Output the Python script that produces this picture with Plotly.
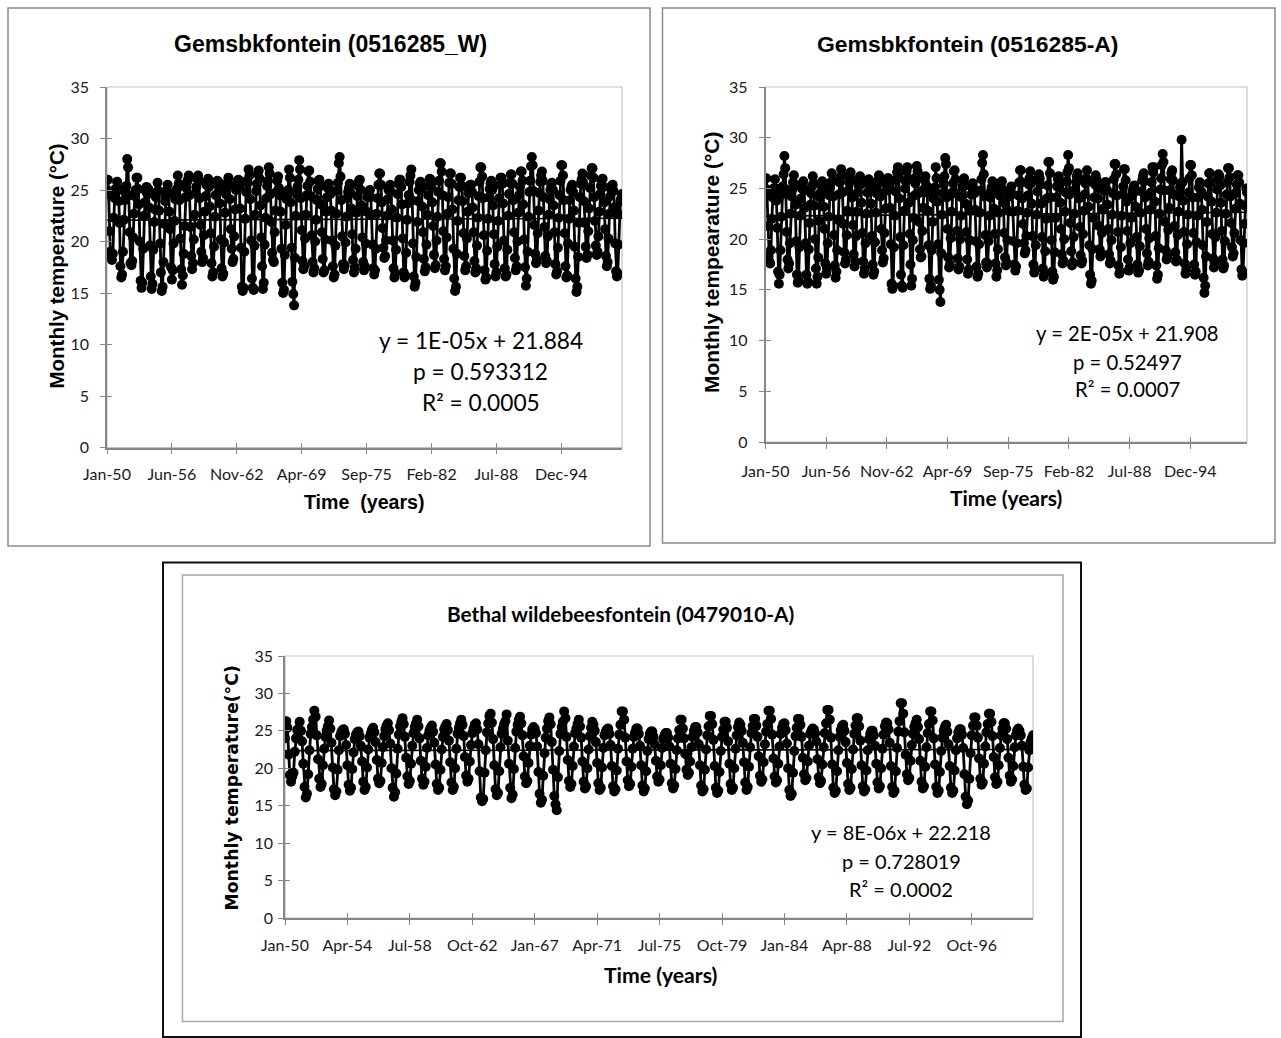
import pandas as pd
import plotly.graph_objects as go

# ---------------------------------------------------------------------------
# Monthly mean temperature (deg C), January 1950 - December 2000, one row per year
# ---------------------------------------------------------------------------
W_TEMPS = [
    25.0, 26.0, 24.6, 21.0, 19.0, 18.6, 18.2, 18.8, 22.3, 24.2, 25.1, 24.8,  # 1950
    25.8, 25.2, 23.9, 21.8, 17.6, 16.5, 16.8, 19.0, 22.1, 24.0, 24.7, 25.4,  # 1951
    28.0, 27.2, 24.5, 20.9, 17.9, 17.7, 18.1, 20.4, 22.7, 24.4, 25.0, 26.2,  # 1952
    26.2, 25.1, 23.6, 20.0, 16.2, 15.5, 16.0, 19.3, 22.5, 23.8, 24.9, 25.3,  # 1953
    24.6, 25.1, 23.3, 19.6, 16.6, 15.4, 15.9, 19.2, 21.9, 23.1, 24.3, 24.8,  # 1954
    25.7, 24.9, 23.0, 19.8, 17.0, 15.2, 15.6, 18.0, 21.7, 23.9, 24.4, 25.0,  # 1955
    25.5, 24.7, 22.9, 21.2, 17.5, 16.3, 17.2, 19.8, 22.0, 24.1, 24.6, 25.1,  # 1956
    26.4, 25.6, 24.0, 20.3, 17.3, 15.8, 16.7, 18.8, 21.5, 24.3, 25.2, 25.8,  # 1957
    26.0, 26.4, 24.5, 21.4, 18.6, 17.3, 17.9, 20.2, 22.6, 24.7, 25.3, 26.1,  # 1958
    26.4, 25.9, 24.2, 21.6, 19.0, 18.0, 18.4, 20.6, 22.9, 24.4, 25.5, 25.8,  # 1959
    26.1, 25.3, 23.4, 20.8, 17.9, 16.6, 17.0, 19.5, 22.4, 24.5, 25.6, 25.9,  # 1960
    25.8, 25.0, 23.7, 20.2, 17.4, 16.6, 16.9, 19.9, 22.8, 24.6, 25.4, 25.7,  # 1961
    26.2, 25.5, 24.1, 21.2, 19.3, 18.0, 18.3, 20.5, 23.1, 25.0, 25.3, 25.9,  # 1962
    26.0, 25.4, 23.2, 19.4, 15.6, 15.2, 15.5, 19.0, 22.2, 24.8, 25.9, 25.7,  # 1963
    27.0, 26.4, 24.1, 20.1, 16.4, 15.5, 15.3, 19.6, 22.6, 24.9, 25.6, 26.6,  # 1964
    26.9, 26.1, 23.5, 20.4, 17.6, 15.4, 16.0, 19.7, 22.3, 24.2, 25.4, 25.9,  # 1965
    27.2, 26.6, 24.6, 21.9, 18.9, 18.2, 18.0, 20.9, 23.0, 24.8, 25.9, 26.3,  # 1966
    25.2, 24.5, 22.9, 19.3, 16.0, 15.0, 15.3, 18.7, 21.6, 24.1, 24.7, 25.0,  # 1967
    27.0, 26.2, 23.8, 19.4, 16.1, 14.9, 13.8, 18.4, 22.5, 24.6, 25.3, 26.0,  # 1968
    27.9, 27.0, 24.2, 21.1, 18.1, 17.3, 17.6, 20.3, 22.6, 24.5, 25.4, 26.8,  # 1969
    26.9, 25.8, 24.4, 20.6, 18.0, 17.0, 17.4, 20.0, 22.1, 24.0, 25.1, 25.9,  # 1970
    26.0, 25.4, 23.6, 20.9, 18.3, 17.0, 17.2, 20.2, 22.9, 24.3, 25.2, 25.6,  # 1971
    25.1, 24.6, 23.0, 20.1, 17.6, 16.5, 16.8, 19.6, 22.7, 24.9, 25.7, 27.6,  # 1972
    28.2, 26.3, 24.0, 20.5, 17.8, 17.3, 17.7, 19.9, 22.4, 24.2, 24.8, 25.2,  # 1973
    25.6, 24.7, 23.2, 20.7, 18.2, 17.0, 17.5, 19.3, 22.8, 24.4, 25.4, 25.9,  # 1974
    26.0, 25.0, 23.5, 20.4, 18.0, 17.2, 17.6, 19.8, 22.9, 24.3, 24.6, 24.9,  # 1975
    25.0, 24.3, 22.6, 19.7, 17.4, 16.8, 17.2, 19.3, 22.7, 24.2, 25.5, 26.6,  # 1976
    26.6, 25.5, 23.8, 21.3, 19.4, 18.4, 18.6, 20.1, 22.5, 24.1, 25.0, 25.3,  # 1977
    25.5, 24.8, 23.1, 20.1, 17.4, 16.5, 16.9, 19.2, 22.3, 24.6, 25.6, 26.0,  # 1978
    26.0, 25.3, 23.6, 20.3, 17.0, 16.5, 16.7, 18.9, 22.1, 23.7, 24.5, 25.8,  # 1979
    26.4, 27.0, 24.0, 19.8, 16.6, 15.6, 16.0, 18.5, 21.9, 23.9, 25.0, 25.6,  # 1980
    25.8, 25.1, 23.4, 20.9, 18.3, 17.1, 17.5, 19.7, 22.6, 24.5, 25.4, 26.1,  # 1981
    26.0, 25.3, 23.8, 21.5, 18.7, 17.4, 17.7, 20.1, 22.4, 24.8, 25.9, 27.6,  # 1982
    27.6, 26.8, 24.5, 21.0, 18.3, 17.2, 17.6, 20.4, 22.7, 24.3, 25.7, 26.6,  # 1983
    26.6, 25.6, 23.1, 19.3, 16.4, 15.2, 15.6, 18.8, 22.0, 24.0, 25.3, 26.2,  # 1984
    26.2, 25.4, 23.9, 20.8, 18.6, 17.2, 17.6, 20.3, 22.9, 24.7, 25.0, 25.5,  # 1985
    25.5, 24.8, 23.3, 20.9, 18.1, 17.0, 17.4, 19.6, 22.3, 24.4, 25.8, 27.2,  # 1986
    27.2, 26.3, 24.2, 20.6, 17.2, 16.3, 16.5, 19.1, 22.2, 24.3, 25.1, 25.6,  # 1987
    25.9, 25.0, 23.5, 20.7, 17.8, 16.6, 17.0, 19.5, 22.0, 24.2, 25.5, 26.2,  # 1988
    26.2, 25.6, 23.7, 20.1, 17.4, 16.6, 16.8, 19.2, 22.5, 24.6, 25.7, 26.5,  # 1989
    26.5, 25.6, 24.0, 20.9, 18.4, 17.2, 17.6, 20.0, 22.8, 24.5, 25.3, 26.8,  # 1990
    26.8, 25.9, 23.6, 20.2, 17.5, 15.7, 16.4, 19.0, 22.4, 24.8, 25.9, 27.3,  # 1991
    28.2, 27.4, 24.9, 21.6, 18.8, 17.9, 18.2, 20.8, 23.0, 24.7, 25.8, 26.4,  # 1992
    26.8, 25.9, 24.3, 21.4, 18.6, 17.9, 18.1, 20.5, 22.6, 24.1, 25.0, 25.5,  # 1993
    25.7, 25.0, 23.5, 20.9, 17.8, 16.8, 17.1, 19.4, 22.3, 24.5, 25.9, 27.4,  # 1994
    27.4, 26.4, 24.0, 20.8, 17.6, 16.5, 16.7, 19.8, 22.2, 24.0, 25.0, 25.3,  # 1995
    25.5, 24.8, 23.0, 19.5, 16.4, 15.1, 15.6, 18.5, 21.8, 24.3, 25.6, 26.0,  # 1996
    26.6, 25.7, 23.9, 21.8, 19.5, 18.4, 18.7, 21.0, 23.2, 25.2, 26.4, 27.1,  # 1997
    27.1, 26.2, 24.3, 22.0, 19.6, 18.7, 19.0, 20.5, 22.9, 24.6, 25.4, 26.0,  # 1998
    26.1, 25.3, 23.8, 21.2, 18.6, 17.6, 18.0, 20.3, 22.7, 24.4, 25.1, 25.4,  # 1999
    25.5, 24.9, 23.3, 19.8, 17.1, 16.6, 16.9, 19.7, 22.6, 23.9, 24.2, 24.6,  # 2000
]

A_TEMPS = [
    25.0, 26.0, 24.3, 21.3, 18.3, 17.8, 17.6, 18.9, 22.0, 24.1, 25.0, 24.6,  # 1950
    25.9, 25.0, 23.8, 21.1, 16.8, 15.6, 16.5, 18.9, 22.2, 24.4, 25.2, 26.4,  # 1951
    28.2, 27.0, 24.9, 20.7, 18.0, 17.1, 17.6, 19.6, 22.5, 24.2, 24.9, 25.6,  # 1952
    26.3, 25.3, 23.4, 19.8, 16.5, 15.7, 15.9, 19.2, 22.3, 24.0, 25.0, 25.5,  # 1953
    25.7, 24.8, 23.1, 19.6, 16.5, 15.6, 15.8, 19.0, 21.6, 23.4, 24.5, 25.2,  # 1954
    26.2, 25.5, 23.3, 20.0, 17.1, 15.6, 16.3, 18.2, 21.8, 24.1, 24.6, 25.3,  # 1955
    25.7, 24.9, 23.2, 21.0, 17.6, 16.6, 17.1, 19.6, 22.2, 24.3, 25.1, 25.6,  # 1956
    26.5, 25.7, 24.2, 20.4, 17.4, 16.2, 16.8, 18.9, 21.9, 24.4, 25.6, 26.1,  # 1957
    26.9, 26.3, 24.6, 21.5, 18.7, 17.6, 18.0, 20.4, 22.8, 24.8, 25.6, 26.2,  # 1958
    26.6, 25.8, 24.1, 21.4, 18.5, 17.3, 17.8, 20.3, 22.7, 24.6, 25.3, 25.7,  # 1959
    26.2, 25.4, 23.6, 20.6, 17.8, 16.6, 17.1, 19.6, 22.5, 24.6, 25.5, 25.9,  # 1960
    25.7, 24.9, 23.5, 20.3, 17.5, 16.5, 16.8, 19.7, 22.6, 24.5, 25.4, 25.8,  # 1961
    26.3, 25.6, 24.2, 21.0, 18.9, 17.7, 18.1, 20.6, 23.0, 24.8, 25.4, 26.0,  # 1962
    26.0, 25.3, 23.1, 19.5, 15.6, 15.1, 15.4, 19.2, 22.3, 24.7, 25.8, 26.6,  # 1963
    27.1, 26.2, 24.0, 20.2, 16.5, 15.4, 15.2, 19.4, 22.8, 25.0, 25.7, 26.7,  # 1964
    27.1, 26.0, 23.6, 20.5, 17.5, 15.4, 16.1, 19.9, 22.1, 24.3, 25.5, 26.1,  # 1965
    27.2, 26.7, 24.5, 21.7, 19.0, 18.2, 18.3, 20.8, 23.1, 24.9, 25.8, 26.2,  # 1966
    25.3, 24.6, 22.8, 19.4, 16.1, 15.1, 15.4, 18.9, 21.7, 24.0, 24.8, 25.1,  # 1967
    27.1, 26.0, 23.7, 19.5, 16.0, 15.0, 13.8, 18.6, 22.4, 24.5, 25.4, 26.2,  # 1968
    28.0, 27.4, 24.1, 21.0, 18.2, 17.2, 17.5, 20.1, 22.7, 24.6, 25.5, 26.7,  # 1969
    26.8, 25.9, 24.5, 20.8, 18.1, 17.0, 17.3, 20.0, 22.3, 24.1, 25.2, 25.8,  # 1970
    26.0, 25.3, 23.5, 20.7, 18.0, 16.6, 17.0, 19.9, 22.8, 24.4, 25.1, 25.5,  # 1971
    25.0, 24.5, 22.9, 19.8, 17.3, 16.3, 16.6, 19.5, 22.6, 24.8, 25.9, 27.5,  # 1972
    28.3, 26.4, 24.2, 20.4, 17.7, 17.2, 17.6, 19.8, 22.3, 24.1, 24.7, 25.1,  # 1973
    25.7, 24.8, 23.0, 20.5, 17.6, 16.3, 16.9, 19.0, 22.6, 24.3, 25.2, 25.6,  # 1974
    25.7, 24.9, 23.6, 20.6, 18.2, 17.4, 17.7, 19.9, 22.8, 24.2, 24.5, 24.8,  # 1975
    25.2, 24.4, 22.7, 19.8, 17.5, 16.9, 17.3, 19.6, 22.8, 24.3, 25.6, 26.8,  # 1976
    26.8, 25.6, 24.0, 21.5, 19.6, 18.6, 18.9, 20.3, 22.6, 24.3, 25.4, 26.0,  # 1977
    26.7, 25.5, 23.5, 20.3, 17.5, 16.7, 17.0, 19.4, 22.4, 24.7, 25.9, 26.4,  # 1978
    26.0, 25.4, 23.5, 20.2, 17.1, 16.3, 16.6, 18.8, 22.0, 24.0, 25.3, 27.6,  # 1979
    27.6, 26.5, 24.1, 19.9, 16.8, 16.0, 16.3, 18.7, 22.1, 24.1, 25.2, 25.9,  # 1980
    26.2, 25.3, 23.6, 21.0, 18.5, 17.6, 17.9, 20.0, 22.7, 24.6, 25.7, 26.6,  # 1981
    28.3, 27.0, 24.4, 21.6, 18.8, 17.4, 17.7, 20.2, 22.5, 24.9, 25.6, 26.2,  # 1982
    26.5, 25.8, 24.0, 21.2, 18.4, 17.6, 17.9, 20.5, 22.8, 24.4, 25.5, 26.0,  # 1983
    26.8, 25.7, 23.2, 19.4, 16.5, 15.6, 15.9, 19.0, 22.1, 24.1, 25.4, 26.3,  # 1984
    25.9, 25.2, 24.0, 21.3, 19.0, 18.3, 18.6, 20.6, 23.0, 24.8, 25.1, 25.6,  # 1985
    25.6, 24.9, 23.4, 21.0, 18.5, 17.6, 17.9, 19.9, 22.4, 24.5, 25.9, 27.4,  # 1986
    27.4, 26.4, 24.3, 20.7, 17.4, 16.6, 16.8, 19.2, 22.3, 24.4, 25.2, 26.9,  # 1987
    26.9, 25.8, 23.7, 20.8, 18.0, 16.9, 17.2, 19.6, 22.1, 24.3, 24.8, 25.1,  # 1988
    25.3, 24.7, 23.2, 20.2, 17.5, 16.7, 16.9, 19.3, 22.6, 24.7, 25.8, 26.2,  # 1989
    26.5, 25.7, 24.1, 21.0, 18.6, 17.4, 17.8, 20.1, 22.9, 24.6, 25.6, 27.1,  # 1990
    26.6, 27.1, 23.7, 20.3, 17.4, 16.1, 16.5, 19.1, 22.5, 24.9, 26.0, 27.3,  # 1991
    28.4, 27.6, 24.8, 21.7, 18.9, 18.0, 18.3, 20.9, 23.1, 24.8, 25.9, 26.5,  # 1992
    26.8, 25.8, 24.4, 21.3, 18.7, 17.8, 18.0, 20.4, 22.7, 24.2, 25.1, 25.4,  # 1993
    29.8, 25.6, 23.8, 20.7, 17.6, 16.6, 17.0, 19.5, 22.4, 24.6, 26.0, 27.3,  # 1994
    27.3, 26.3, 24.1, 20.6, 17.5, 16.5, 16.8, 19.7, 22.3, 24.1, 25.1, 25.6,  # 1995
    25.5, 24.7, 22.9, 19.4, 16.2, 14.7, 15.4, 18.3, 21.7, 24.2, 25.5, 26.5,  # 1996
    26.5, 25.6, 23.7, 20.5, 18.1, 17.2, 17.6, 20.2, 22.6, 24.9, 25.9, 26.4,  # 1997
    26.2, 25.3, 23.6, 20.8, 18.0, 17.1, 17.4, 19.8, 22.5, 24.4, 25.6, 27.0,  # 1998
    27.0, 26.1, 24.2, 21.6, 19.2, 18.3, 18.6, 20.6, 23.0, 24.6, 25.4, 26.3,  # 1999
    26.3, 25.6, 23.5, 19.9, 17.0, 16.4, 16.7, 19.6, 21.5, 23.3, 25.0, 24.6,  # 2000
]

B_TEMPS = [
    24.0, 26.3, 25.4, 21.8, 19.1, 18.2, 18.9, 19.4, 22.2, 24.0, 25.1, 25.3,  # 1950
    26.2, 25.0, 23.6, 20.6, 17.5, 16.1, 16.6, 19.2, 22.4, 24.6, 25.5, 26.5,  # 1951
    27.7, 26.9, 24.4, 21.2, 18.6, 17.5, 17.9, 20.4, 22.6, 24.2, 25.0, 25.6,  # 1952
    26.4, 25.3, 23.4, 20.1, 17.2, 16.4, 16.9, 19.8, 22.4, 24.3, 24.8, 25.1,  # 1953
    25.2, 24.6, 23.1, 20.4, 17.8, 17.0, 17.4, 19.9, 22.1, 23.9, 24.5, 24.8,  # 1954
    24.9, 24.3, 23.0, 20.9, 18.2, 17.1, 17.5, 20.1, 22.5, 24.1, 24.6, 25.1,  # 1955
    25.4, 24.8, 23.5, 21.1, 18.6, 18.0, 18.3, 20.7, 22.8, 24.3, 25.2, 25.7,  # 1956
    26.0, 25.1, 23.3, 20.0, 17.4, 16.2, 16.8, 19.3, 22.6, 24.5, 25.6, 26.2,  # 1957
    26.7, 25.9, 24.2, 21.4, 18.9, 17.9, 18.3, 20.6, 23.0, 24.7, 25.5, 26.0,  # 1958
    26.5, 25.6, 24.0, 21.0, 18.6, 17.8, 18.2, 20.2, 22.7, 24.4, 25.0, 25.4,  # 1959
    25.7, 24.9, 23.4, 20.5, 17.9, 17.1, 17.4, 19.8, 22.5, 24.2, 25.2, 25.6,  # 1960
    25.9, 25.1, 23.7, 20.8, 18.1, 17.1, 17.5, 20.0, 22.6, 24.6, 25.4, 26.0,  # 1961
    26.5, 25.8, 24.3, 21.5, 19.0, 18.2, 18.6, 20.9, 23.1, 24.7, 25.3, 25.8,  # 1962
    26.0, 25.2, 23.2, 19.6, 16.1, 15.6, 15.9, 19.4, 22.4, 24.8, 26.0, 27.0,  # 1963
    27.3, 26.1, 23.9, 20.4, 17.2, 16.4, 16.7, 19.6, 22.8, 24.6, 25.3, 25.9,  # 1964
    26.3, 27.2, 23.7, 20.6, 17.4, 16.0, 16.5, 19.9, 22.7, 24.9, 25.8, 26.5,  # 1965
    26.9, 26.0, 24.4, 21.6, 18.9, 18.0, 18.3, 20.7, 23.0, 24.5, 25.2, 25.5,  # 1966
    25.3, 24.7, 22.9, 19.5, 16.6, 15.4, 15.8, 19.0, 22.0, 24.1, 25.3, 26.3,  # 1967
    26.8, 25.9, 23.5, 19.8, 16.3, 15.2, 14.4, 18.8, 22.3, 24.6, 25.5, 26.2,  # 1968
    27.6, 26.7, 24.2, 21.1, 18.3, 17.5, 17.9, 20.3, 22.9, 24.7, 25.3, 25.9,  # 1969
    26.5, 25.6, 24.1, 20.9, 18.2, 17.3, 17.6, 20.0, 22.5, 24.3, 25.4, 26.2,  # 1970
    25.8, 25.0, 23.5, 20.7, 18.0, 17.1, 17.4, 20.1, 22.7, 24.4, 24.9, 25.2,  # 1971
    25.3, 24.6, 23.1, 20.3, 17.6, 16.9, 17.2, 19.7, 22.6, 24.5, 25.8, 27.6,  # 1972
    27.6, 26.5, 24.1, 20.9, 18.4, 17.6, 17.9, 20.2, 22.6, 24.2, 24.8, 25.3,  # 1973
    25.3, 24.6, 23.0, 20.4, 17.7, 16.9, 17.3, 19.6, 22.3, 23.9, 24.6, 24.9,  # 1974
    24.9, 24.2, 23.2, 21.0, 18.9, 18.2, 18.5, 20.4, 22.7, 23.9, 24.4, 24.7,  # 1975
    24.7, 24.1, 22.9, 20.6, 18.0, 17.3, 17.7, 19.9, 22.4, 24.0, 25.1, 26.5,  # 1976
    26.5, 25.3, 24.0, 21.9, 19.8, 19.1, 19.4, 20.9, 22.8, 24.2, 25.0, 25.5,  # 1977
    25.5, 24.8, 23.2, 20.4, 17.7, 16.9, 17.2, 19.8, 22.5, 24.4, 25.6, 27.0,  # 1978
    27.0, 25.9, 23.8, 20.3, 17.4, 16.7, 17.0, 19.5, 22.3, 24.2, 25.2, 26.2,  # 1979
    26.2, 25.4, 23.6, 20.6, 17.9, 17.1, 17.4, 20.0, 22.6, 24.4, 25.5, 26.1,  # 1980
    25.8, 25.0, 23.4, 20.8, 18.1, 17.1, 17.5, 20.2, 22.8, 24.7, 25.6, 26.6,  # 1981
    26.6, 25.7, 24.2, 21.6, 19.0, 18.2, 18.5, 20.8, 23.2, 24.9, 25.9, 27.7,  # 1982
    27.7, 26.6, 24.5, 21.3, 18.9, 18.1, 18.4, 20.6, 22.9, 24.6, 25.4, 25.9,  # 1983
    26.0, 25.1, 23.3, 20.0, 17.1, 16.3, 16.6, 19.4, 22.3, 24.3, 25.4, 26.6,  # 1984
    26.6, 25.8, 24.2, 21.4, 19.2, 18.4, 18.7, 20.9, 23.0, 24.6, 25.0, 25.3,  # 1985
    25.2, 24.6, 23.6, 21.2, 18.8, 18.0, 18.3, 20.5, 22.8, 24.7, 26.0, 27.8,  # 1986
    27.8, 26.5, 24.1, 20.5, 17.4, 16.7, 17.0, 19.6, 22.4, 24.2, 25.1, 25.6,  # 1987
    25.8, 25.0, 23.5, 20.7, 17.9, 17.1, 17.4, 19.9, 22.5, 24.6, 25.7, 26.7,  # 1988
    26.7, 25.6, 23.7, 20.4, 17.6, 16.9, 17.2, 19.7, 22.4, 23.9, 24.6, 25.0,  # 1989
    25.0, 24.4, 23.0, 20.6, 18.1, 17.3, 17.6, 20.0, 22.6, 24.5, 25.6, 26.1,  # 1990
    26.0, 25.2, 23.4, 20.3, 17.5, 16.7, 17.0, 19.6, 22.7, 24.9, 26.3, 28.7,  # 1991
    28.7, 27.3, 24.8, 21.8, 19.2, 18.4, 18.7, 21.0, 23.1, 24.6, 25.5, 26.0,  # 1992
    26.5, 25.5, 23.9, 21.0, 18.2, 17.3, 17.6, 20.2, 22.8, 24.7, 25.9, 27.6,  # 1993
    27.6, 26.4, 24.0, 20.5, 17.5, 16.7, 17.0, 19.5, 22.3, 24.1, 25.0, 25.5,  # 1994
    25.8, 24.9, 23.2, 20.3, 17.4, 16.7, 17.0, 19.7, 22.4, 24.0, 24.8, 25.2,  # 1995
    25.2, 24.5, 22.7, 19.2, 16.2, 15.2, 15.7, 18.6, 22.0, 24.4, 25.7, 26.8,  # 1996
    26.8, 25.7, 24.1, 21.3, 18.6, 17.8, 18.1, 20.6, 22.9, 24.8, 25.9, 27.3,  # 1997
    27.3, 26.2, 24.3, 21.5, 18.8, 17.9, 18.2, 20.4, 22.7, 24.4, 25.3, 26.0,  # 1998
    26.0, 25.3, 23.9, 21.4, 19.0, 18.2, 18.5, 20.3, 22.8, 24.4, 25.0, 25.3,  # 1999
    25.0, 24.4, 23.0, 20.2, 17.8, 17.1, 17.3, 20.1, 22.4, 23.5, 24.0, 24.4,  # 2000
]

FIRST_MONTH = "1950-01-01"

# Linear trend statistics (x measured as spreadsheet date serial numbers)
W_SLOPE, W_INTERCEPT, W_P, W_R2 = 1e-05, 21.884, "0.593312", "0.0005"
A_SLOPE, A_INTERCEPT, A_P, A_R2 = 2e-05, 21.908, "0.52497", "0.0007"
B_SLOPE, B_INTERCEPT, B_P, B_R2 = 8e-06, 22.218, "0.728019", "0.0002"

W_TITLE = "Gemsbkfontein (0516285_W)"
A_TITLE = "Gemsbkfontein (0516285-A)"
B_TITLE = "Bethal wildebeesfontein (0479010-A)"

W_YTITLE = "Monthly temperature (°C)"
A_YTITLE = "Monthly tempearature (°C)"
B_YTITLE = "Monthly temperature(°C)"

W_XTITLE = "Time\u00a0 (years)"
A_XTITLE = "Time (years)"
B_XTITLE = "Time (years)"

Y_TICKS = [0, 5, 10, 15, 20, 25, 30, 35]
W_TICK_STEP_MONTHS = 77
A_TICK_STEP_MONTHS = 77
B_TICK_STEP_MONTHS = 51

# ---------------------------------------------------------------------------
FIG_W, FIG_H = 1281, 1038
ARIAL = "Liberation Sans, Arial, sans-serif"
CALIBRI = "Lato, Carlito, Calibri, sans-serif"
VERDANA = "DejaVu Sans, Verdana, sans-serif"
AXIS_GREY = "#868686"


def px(x):
    return x / FIG_W


def py(y):
    return 1 - y / FIG_H


def serial(ts):
    return (ts - pd.Timestamp("1899-12-30")).days


panels = [
    dict(
        temps=W_TEMPS, slope=W_SLOPE, intercept=W_INTERCEPT, p=W_P, r2=W_R2,
        title=W_TITLE, ytitle=W_YTITLE, xtitle=W_XTITLE, step=W_TICK_STEP_MONTHS,
        area=(107, 622, 87, 447.5),
        title_pos=(330, 44), title_font=(ARIAL, 23),
        ytitle_pos=(55.5, 266), ytitle_font=(ARIAL, 20.5),
        xtitle_pos=(364, 502), xtitle_font=(ARIAL, 19.6),
        eq_x=481, eq_y=(340, 371, 402), eq_size=22.7,
        ystand=8, xstand=6,
    ),
    dict(
        temps=A_TEMPS, slope=A_SLOPE, intercept=A_INTERCEPT, p=A_P, r2=A_R2,
        title=A_TITLE, ytitle=A_YTITLE, xtitle=A_XTITLE, step=A_TICK_STEP_MONTHS,
        area=(765.5, 1247, 87, 442),
        title_pos=(968, 44), title_font=(ARIAL, 22.9),
        ytitle_pos=(711, 262), ytitle_font=(ARIAL, 20.9),
        xtitle_pos=(1006, 498), xtitle_font=(CALIBRI, 21),
        eq_x=1127, eq_y=(333, 361.5, 389), eq_size=20.3,
        ystand=8, xstand=9,
    ),
    dict(
        temps=B_TEMPS, slope=B_SLOPE, intercept=B_INTERCEPT, p=B_P, r2=B_R2,
        title=B_TITLE, ytitle=B_YTITLE, xtitle=B_XTITLE, step=B_TICK_STEP_MONTHS,
        area=(285, 1033, 656, 918),
        title_pos=(620, 613), title_font=(CALIBRI, 20.8),
        ytitle_pos=(231.5, 788), ytitle_font=(VERDANA, 17.3),
        xtitle_pos=(661, 975), xtitle_font=(CALIBRI, 21.2),
        eq_x=901, eq_y=(832, 861, 889), eq_size=20,
        ystand=2, xstand=7,
    ),
]

fig = go.Figure()
layout = {}
annotations = []
shapes = []

for i, pnl in enumerate(panels, start=1):
    months = pd.date_range(FIRST_MONTH, periods=len(pnl["temps"]), freq="MS")
    first, last = months[0], months[-1]
    xr = [first.strftime("%Y-%m-%d"), last.strftime("%Y-%m-%d")]

    base = "" if i == 1 else str(i)
    over = str(i + 3)
    xa, ya = "x" + base, "y" + base
    xo, yo = "x" + over, "y" + over

    x0, x1, y0, y1 = pnl["area"]
    tickfont = dict(family=CALIBRI, size=16, color="#1a1a1a")

    layout["xaxis" + base] = dict(
        domain=[px(x0), px(x1)], anchor=ya, type="date", range=xr,
        tick0=FIRST_MONTH, dtick="M%d" % pnl["step"], tickformat="%b-%y",
        ticks="outside", ticklen=5, tickwidth=1.3, tickcolor=AXIS_GREY,
        showline=True, linecolor=AXIS_GREY, linewidth=1.6,
        showgrid=False, zeroline=False, tickfont=tickfont, automargin=False,
        ticklabelstandoff=pnl["xstand"], fixedrange=True,
    )
    layout["yaxis" + base] = dict(
        domain=[py(y1), py(y0)], anchor=xa, range=[0, 35],
        tickvals=Y_TICKS, ticks="outside", ticklen=5, tickwidth=1.3,
        tickcolor=AXIS_GREY, showline=True, linecolor=AXIS_GREY, linewidth=1.6,
        showgrid=False, zeroline=False, tickfont=tickfont, automargin=False,
        ticklabelstandoff=pnl["ystand"], fixedrange=True,
    )
    # overlay axes carry the inner half of the crossing tick marks
    layout["xaxis" + over] = dict(
        overlaying=xa, anchor=ya, type="date", range=xr,
        tick0=FIRST_MONTH, dtick="M%d" % pnl["step"],
        ticks="inside", ticklen=5, tickwidth=1.3, tickcolor=AXIS_GREY,
        showticklabels=False, showline=False, showgrid=False, zeroline=False,
        automargin=False, fixedrange=True,
    )
    layout["yaxis" + over] = dict(
        overlaying=ya, anchor=xa, range=[0, 35], tickvals=Y_TICKS,
        ticks="inside", ticklen=5, tickwidth=1.3, tickcolor=AXIS_GREY,
        showticklabels=False, showline=False, showgrid=False, zeroline=False,
        automargin=False, fixedrange=True,
    )

    # monthly series
    fig.add_trace(go.Scatter(
        x=months, y=pnl["temps"], mode="lines+markers",
        line=dict(color="black", width=2.8),
        marker=dict(symbol="circle", size=10, color="black"),
        xaxis=xa, yaxis=ya, hoverinfo="skip",
    ))
    # linear trend line from the fitted equation
    tx = [first, last]
    ty = [pnl["slope"] * serial(t) + pnl["intercept"] for t in tx]
    fig.add_trace(go.Scatter(
        x=tx, y=ty, mode="lines", line=dict(color="black", width=1.6),
        xaxis=xo, yaxis=yo, hoverinfo="skip",
    ))

    # plot-area border
    shapes.append(dict(
        type="rect", xref=xa + " domain", yref=ya + " domain",
        x0=0, x1=1, y0=0, y1=1, line=dict(color="#c4c4c4", width=1.2),
        layer="below",
    ))

    fam, size = pnl["title_font"]
    annotations.append(dict(
        text="<b>%s</b>" % pnl["title"], x=px(pnl["title_pos"][0]),
        y=py(pnl["title_pos"][1]), xref="paper", yref="paper",
        xanchor="center", yanchor="middle", showarrow=False,
        font=dict(family=fam, size=size, color="black"),
    ))
    fam, size = pnl["ytitle_font"]
    annotations.append(dict(
        text="<b>%s</b>" % pnl["ytitle"], x=px(pnl["ytitle_pos"][0]),
        y=py(pnl["ytitle_pos"][1]), xref="paper", yref="paper",
        xanchor="center", yanchor="middle", textangle=-90, showarrow=False,
        font=dict(family=fam, size=size, color="black"),
    ))
    fam, size = pnl["xtitle_font"]
    annotations.append(dict(
        text="<b>%s</b>" % pnl["xtitle"], x=px(pnl["xtitle_pos"][0]),
        y=py(pnl["xtitle_pos"][1]), xref="paper", yref="paper",
        xanchor="center", yanchor="middle", showarrow=False,
        font=dict(family=fam, size=size, color="black"),
    ))

    eq_lines = [
        "y = %sx + %s" % (format(pnl["slope"], ".0E"), pnl["intercept"]),
        "p = %s" % pnl["p"],
        "R² = %s" % pnl["r2"],
    ]
    for line_text, ypos in zip(eq_lines, pnl["eq_y"]):
        annotations.append(dict(
            text=line_text, x=px(pnl["eq_x"]), y=py(ypos),
            xref="paper", yref="paper", xanchor="center", yanchor="middle",
            showarrow=False,
            font=dict(family=CALIBRI, size=pnl["eq_size"], color="black"),
        ))

# chart frames
FRAME_GREY = "#8a8a8a"
for (fx0, fy0, fx1, fy1, col, wd) in [
    (8, 8, 650, 546, FRAME_GREY, 1.5),
    (662.5, 8, 1275, 543, FRAME_GREY, 1.5),
    (163, 562.5, 1081, 1037, "#111111", 2),
    (182.5, 575, 1063, 1021.5, "#a6a6a6", 1.5),
]:
    shapes.append(dict(
        type="rect", xref="paper", yref="paper",
        x0=px(fx0), x1=px(fx1), y0=py(fy1), y1=py(fy0),
        line=dict(color=col, width=wd), fillcolor="rgba(0,0,0,0)",
    ))

fig.update_layout(
    width=FIG_W, height=FIG_H,
    margin=dict(l=0, r=0, t=0, b=0, pad=0, autoexpand=False),
    paper_bgcolor="white", plot_bgcolor="white", showlegend=False,
    annotations=annotations, shapes=shapes, **layout,
)

fig.write_html("out.html", include_plotlyjs=True, config={"displayModeBar": False})
